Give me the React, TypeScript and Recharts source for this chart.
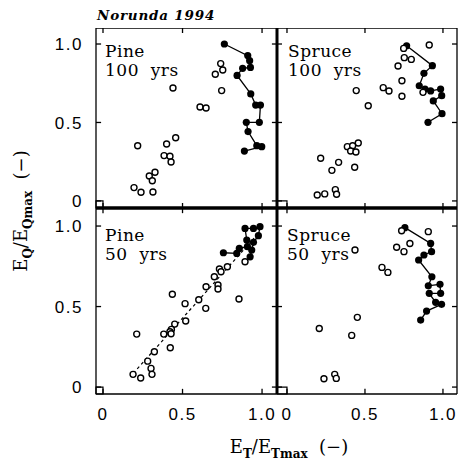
import { ScatterChart, Scatter, XAxis, YAxis, ReferenceArea, ReferenceLine } from "recharts"

type Pt = { x: number; y: number }

const TICKS = [0, 0.5, 1]

// Pine, 100 yrs
const pine100Open: Pt[] = [
  { x: 0.74, y: 0.875 }, { x: 0.753, y: 0.834 }, { x: 0.706, y: 0.807 }, { x: 0.746, y: 0.703 },
  { x: 0.44, y: 0.72 }, { x: 0.61, y: 0.599 }, { x: 0.648, y: 0.592 }, { x: 0.218, y: 0.352 },
  { x: 0.4, y: 0.363 }, { x: 0.457, y: 0.403 }, { x: 0.384, y: 0.289 }, { x: 0.421, y: 0.285 },
  { x: 0.428, y: 0.248 }, { x: 0.327, y: 0.183 }, { x: 0.291, y: 0.159 }, { x: 0.31, y: 0.129 },
  { x: 0.195, y: 0.085 }, { x: 0.239, y: 0.055 }, { x: 0.314, y: 0.057 },
]
const pine100Filled: Pt[] = [
  { x: 0.763, y: 1.0 }, { x: 0.91, y: 0.926 }, { x: 0.922, y: 0.894 }, { x: 0.927, y: 0.851 },
  { x: 0.878, y: 0.845 }, { x: 0.843, y: 0.8 }, { x: 0.929, y: 0.682 }, { x: 0.96, y: 0.611 },
  { x: 0.99, y: 0.611 }, { x: 0.983, y: 0.501 }, { x: 0.901, y: 0.501 }, { x: 0.912, y: 0.442 },
  { x: 0.967, y: 0.352 }, { x: 0.998, y: 0.346 }, { x: 0.889, y: 0.318 },
]

// Spruce, 100 yrs
const spruce100Open: Pt[] = [
  { x: 0.912, y: 0.994 }, { x: 0.748, y: 0.972 }, { x: 0.752, y: 0.913 }, { x: 0.797, y: 0.902 },
  { x: 0.712, y: 0.86 }, { x: 0.737, y: 0.766 }, { x: 0.617, y: 0.722 }, { x: 0.654, y: 0.701 },
  { x: 0.737, y: 0.667 }, { x: 0.444, y: 0.703 }, { x: 0.521, y: 0.607 }, { x: 0.872, y: 0.692 },
  { x: 0.457, y: 0.369 }, { x: 0.387, y: 0.346 }, { x: 0.421, y: 0.352 }, { x: 0.408, y: 0.318 },
  { x: 0.442, y: 0.312 }, { x: 0.216, y: 0.272 }, { x: 0.331, y: 0.246 }, { x: 0.288, y: 0.195 },
  { x: 0.434, y: 0.215 }, { x: 0.194, y: 0.038 }, { x: 0.242, y: 0.045 }, { x: 0.31, y: 0.072 },
  { x: 0.318, y: 0.043 },
]
const spruce100Filled: Pt[] = [
  { x: 0.767, y: 0.989 }, { x: 0.932, y: 0.862 }, { x: 0.878, y: 0.813 }, { x: 0.848, y: 0.734 },
  { x: 0.885, y: 0.713 }, { x: 0.921, y: 0.701 }, { x: 0.985, y: 0.713 }, { x: 0.992, y: 0.671 },
  { x: 0.938, y: 0.637 }, { x: 0.994, y: 0.556 }, { x: 0.904, y: 0.501 },
]

// Pine, 50 yrs
const pine50Open: Pt[] = [
  { x: 0.893, y: 0.778 }, { x: 0.782, y: 0.747 }, { x: 0.732, y: 0.733 }, { x: 0.742, y: 0.716 },
  { x: 0.7, y: 0.685 }, { x: 0.648, y: 0.623 }, { x: 0.723, y: 0.634 }, { x: 0.723, y: 0.609 },
  { x: 0.436, y: 0.576 }, { x: 0.516, y: 0.518 }, { x: 0.602, y: 0.542 }, { x: 0.646, y: 0.489 },
  { x: 0.855, y: 0.547 }, { x: 0.52, y: 0.41 }, { x: 0.451, y: 0.391 }, { x: 0.43, y: 0.358 },
  { x: 0.421, y: 0.344 }, { x: 0.382, y: 0.329 }, { x: 0.428, y: 0.331 }, { x: 0.212, y: 0.329 },
  { x: 0.423, y: 0.244 }, { x: 0.323, y: 0.219 }, { x: 0.281, y: 0.161 }, { x: 0.302, y: 0.116 },
  { x: 0.308, y: 0.079 }, { x: 0.189, y: 0.079 }, { x: 0.237, y: 0.056 },
]
const pine50Filled: Pt[] = [
  { x: 0.757, y: 0.834 }, { x: 0.841, y: 0.83 }, { x: 0.857, y: 0.861 }, { x: 0.908, y: 0.872 },
  { x: 0.904, y: 0.913 }, { x: 0.893, y: 0.985 }, { x: 0.946, y: 0.985 }, { x: 0.987, y: 0.996 },
  { x: 0.977, y: 0.94 }, { x: 0.946, y: 0.899 }, { x: 0.935, y: 0.851 }, { x: 0.925, y: 0.809 },
]
const pine50Fit: Pt[] = [
  { x: 0.19, y: 0.085 },
  { x: 0.95, y: 0.925 },
]

// Spruce, 50 yrs
const spruce50Open: Pt[] = [
  { x: 0.735, y: 0.971 }, { x: 0.906, y: 0.965 }, { x: 0.788, y: 0.892 }, { x: 0.703, y: 0.868 },
  { x: 0.75, y: 0.841 }, { x: 0.436, y: 0.851 }, { x: 0.609, y: 0.743 }, { x: 0.647, y: 0.712 },
  { x: 0.451, y: 0.433 }, { x: 0.207, y: 0.364 }, { x: 0.415, y: 0.321 }, { x: 0.237, y: 0.052 },
  { x: 0.306, y: 0.079 }, { x: 0.316, y: 0.054 },
]
const spruce50Filled: Pt[] = [
  { x: 0.756, y: 0.99 }, { x: 0.921, y: 0.892 }, { x: 0.927, y: 0.841 }, { x: 0.878, y: 0.82 },
  { x: 0.844, y: 0.789 }, { x: 0.929, y: 0.685 }, { x: 0.906, y: 0.629 }, { x: 0.981, y: 0.638 },
  { x: 0.985, y: 0.582 }, { x: 0.912, y: 0.582 }, { x: 0.953, y: 0.526 }, { x: 0.991, y: 0.514 },
  { x: 0.895, y: 0.472 }, { x: 0.857, y: 0.416 },
]

const LEFT_X: [number, number] = [-0.044, 1.094]
const RIGHT_X: [number, number] = [-0.064, 1.09]
const TOP_Y: [number, number] = [-0.045, 1.102]
const BOTTOM_Y: [number, number] = [-0.043, 1.112]

const SERIF = "'DejaVu Serif', serif"
const SANS = "'Liberation Sans', Arial, sans-serif"
const TICK_LEN = 0.032 // inward tick length, in axis units

function fmtTick(v: number) {
  return v === 0 ? "0" : v.toFixed(1)
}

const OpenDot = (p: any) => (
  <circle cx={p.cx} cy={p.cy} r={3} fill="#fff" stroke="#000" strokeWidth={1.4} />
)
const FilledDot = (p: any) => <circle cx={p.cx} cy={p.cy} r={3.6} fill="#000" />
const NoDot = () => <g />

interface PanelProps {
  open: Pt[]
  filled: Pt[]
  fit?: Pt[]
  xDomain: [number, number]
  yDomain: [number, number]
  showX: boolean
  showY: boolean
  left: number
  top: number
  width: number
  height: number
}

function Panel(props: PanelProps) {
  const { open, filled, fit, xDomain, yDomain, showX, showY, left, top, width, height } = props
  const [x0, x1] = xDomain
  const [y0, y1] = yDomain
  const line = { stroke: "#000", strokeWidth: 1.3 }
  const tickStyle = { fill: "#000", fontSize: 17, fontFamily: SANS, letterSpacing: 1.5 }
  const frame = { stroke: "#000", strokeWidth: 1.3, ifOverflow: "visible" as const }
  return (
    <div style={{ position: "absolute", left, top }}>
      <ScatterChart
        width={width}
        height={height}
        margin={{ top: 0, right: showY ? 0 : 2, bottom: showX ? 0 : 10, left: 0 }}
      >
        <XAxis
          type="number"
          dataKey="x"
          domain={xDomain}
          allowDataOverflow
          ticks={TICKS}
          interval={0}
          tickFormatter={fmtTick}
          hide={!showX}
          height={showX ? 40 : 0}
          tickMargin={14}
          tickSize={0}
          axisLine={false}
          tickLine={false}
          tick={tickStyle}
        />
        <YAxis
          type="number"
          dataKey="y"
          domain={yDomain}
          allowDataOverflow
          ticks={TICKS}
          interval={0}
          tickFormatter={fmtTick}
          hide={!showY}
          width={showY ? 96 : 0}
          tickMargin={13}
          tickSize={0}
          axisLine={false}
          tickLine={false}
          tick={tickStyle}
        />
        <ReferenceLine x={x0} {...frame} />
        <ReferenceLine x={x1} {...frame} />
        <ReferenceLine y={y0} {...frame} />
        <ReferenceLine y={y1} {...frame} />
        {TICKS.map((t) => (
          <ReferenceLine key={`b${t}`} segment={[{ x: t, y: y0 }, { x: t, y: y0 + TICK_LEN }]} {...frame} />
        ))}
        {TICKS.map((t) => (
          <ReferenceLine key={`t${t}`} segment={[{ x: t, y: y1 }, { x: t, y: y1 - TICK_LEN }]} {...frame} />
        ))}
        {TICKS.map((t) => (
          <ReferenceLine key={`l${t}`} segment={[{ x: x0, y: t }, { x: x0 + TICK_LEN, y: t }]} {...frame} />
        ))}
        {TICKS.map((t) => (
          <ReferenceLine key={`r${t}`} segment={[{ x: x1, y: t }, { x: x1 - TICK_LEN, y: t }]} {...frame} />
        ))}
        <ReferenceArea
          x1={x0}
          x2={0}
          y1={y0}
          y2={0}
          fill="none"
          fillOpacity={0}
          stroke="#000"
          strokeWidth={1.2}
          ifOverflow="visible"
        />
        {fit && (
          <Scatter
            data={fit}
            line={{ stroke: "#000", strokeWidth: 1.2, strokeDasharray: "3 3" }}
            shape={NoDot}
            isAnimationActive={false}
          />
        )}
        <Scatter data={filled} line={line} shape={FilledDot} isAnimationActive={false} />
        <Scatter data={open} shape={OpenDot} isAnimationActive={false} />
      </ScatterChart>
    </div>
  )
}

function PanelLabel({ x, y, lines }: { x: number; y: number; lines: string[] }) {
  return (
    <text x={x} y={y} fontFamily={SERIF} fontSize={17} letterSpacing={0.5} fill="#000">
      {lines.map((s, i) => (
        <tspan key={i} x={x} dy={i === 0 ? 0 : 19} xmlSpace="preserve">
          {s}
        </tspan>
      ))}
    </text>
  )
}

export default function App() {
  return (
    <div style={{ position: "absolute", left: 0, top: 0, width: 459, height: 464, background: "#fff" }}>
      <Panel open={pine100Open} filled={pine100Filled} xDomain={LEFT_X} yDomain={TOP_Y}
        showX={false} showY left={0} top={28} width={277} height={190} />
      <Panel open={spruce100Open} filled={spruce100Filled} xDomain={RIGHT_X} yDomain={TOP_Y}
        showX={false} showY={false} left={277} top={28} width={182} height={190} />
      <Panel open={pine50Open} filled={pine50Filled} fit={pine50Fit} xDomain={LEFT_X} yDomain={BOTTOM_Y}
        showX showY left={0} top={208} width={277} height={226} />
      <Panel open={spruce50Open} filled={spruce50Filled} xDomain={RIGHT_X} yDomain={BOTTOM_Y}
        showX showY={false} left={277} top={208} width={182} height={226} />

      <svg width={459} height={464} style={{ position: "absolute", left: 0, top: 0, pointerEvents: "none" }}>
        <line x1={277} y1={28} x2={277} y2={394} stroke="#000" strokeWidth={3} />
        <line x1={96} y1={208} x2={457} y2={208} stroke="#000" strokeWidth={3.5} />
        <text x={97} y={20} fontFamily={SERIF} fontStyle="italic" fontWeight="bold" fontSize={13.5}
          letterSpacing={0.8} fill="#000">
          Norunda 1994
        </text>
        <PanelLabel x={105} y={57} lines={["Pine", "100  yrs"]} />
        <PanelLabel x={288} y={57} lines={["Spruce", "100  yrs"]} />
        <PanelLabel x={105} y={241} lines={["Pine", "50  yrs"]} />
        <PanelLabel x={287} y={241} lines={["Spruce", "50  yrs"]} />
        <text transform="translate(27,211) rotate(-90)" textAnchor="middle" fontFamily={SERIF} fontSize={18} fill="#000">
          E<tspan dy={5} fontSize={12} fontWeight="bold">Q</tspan>
          <tspan dy={-5}>/E</tspan>
          <tspan dy={5} fontSize={12} fontWeight="bold">Qmax</tspan>
          <tspan dy={-5} xmlSpace="preserve">  (−)</tspan>
        </text>
        <text x={289} y={453} textAnchor="middle" fontFamily={SERIF} fontSize={18} fill="#000">
          E<tspan dy={5} fontSize={12} fontWeight="bold">T</tspan>
          <tspan dy={-5}>/E</tspan>
          <tspan dy={5} fontSize={12} fontWeight="bold">Tmax</tspan>
          <tspan dy={-5} xmlSpace="preserve">  (−)</tspan>
        </text>
      </svg>
    </div>
  )
}
